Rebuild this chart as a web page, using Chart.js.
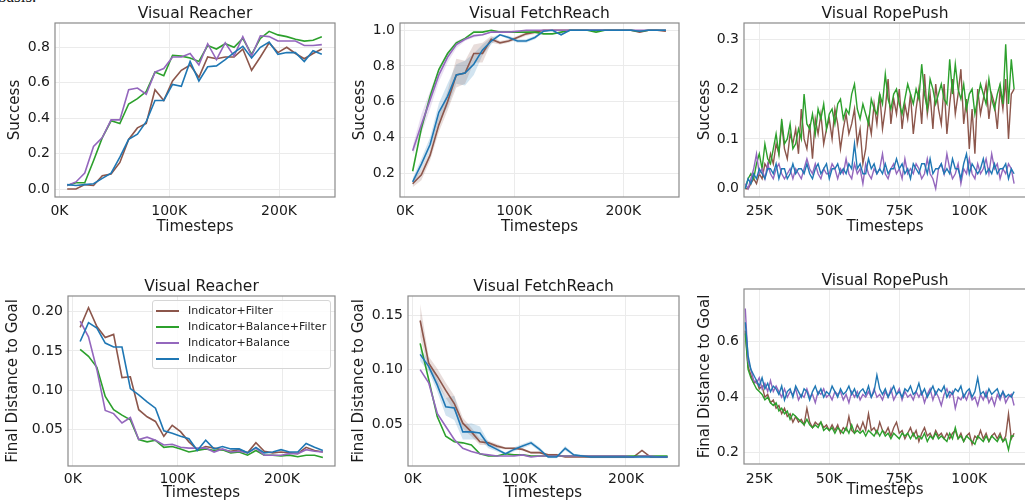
<!DOCTYPE html>
<html><head><meta charset="utf-8">
<script src="https://cdn.jsdelivr.net/npm/chart.js@4.4.0/dist/chart.umd.min.js"></script>
<style>
html,body{margin:0;padding:0;width:1025px;height:502px;overflow:hidden;background:#fff;position:relative;}
canvas{position:absolute;left:0;top:0;}
#frag{position:absolute;left:-2px;top:-13px;font-family:"Liberation Serif";font-size:17px;color:#111;}
#legend{position:absolute;left:152px;top:300px;width:179px;height:69px;border:1px solid #d6d6d6;border-radius:3px;background:rgba(255,255,255,0.85);box-sizing:border-box;font-family:"DejaVu Sans";font-size:11px;color:#262626;z-index:10;}
#legend .it{position:absolute;left:0;height:16px;line-height:16px;white-space:nowrap;}
#legend .sw{position:absolute;left:3px;top:7px;width:23px;height:2px;}
#legend .tx{position:absolute;left:35px;top:0;}
</style>
</head><body>
<div id="frag">basis.</div>
<div id="legend"></div>
<script>
// ---------- data ----------
const seriesNames = ['Indicator+Filter','Indicator+Balance+Filter','Indicator+Balance','Indicator'];
const seriesColors = ['#8c564b','#2ca02c','#9467bd','#1f77b4'];

const steps = [7,15,23,31,39,47,55,63,71,79,87,95,103,111,119,127,135,143,151,159,167,175,183,191,199,207,215,223,231,239];

const reacherSuccFilter = [0.00,0.00,0.025,0.02,0.075,0.085,0.15,0.28,0.345,0.37,0.56,0.50,0.61,0.67,0.70,0.63,0.745,0.735,0.745,0.745,0.79,0.67,0.745,0.825,0.77,0.80,0.765,0.735,0.765,0.79];
const reacherSuccBalFilter = [0.02,0.035,0.035,0.16,0.29,0.385,0.37,0.48,0.51,0.55,0.66,0.64,0.755,0.75,0.74,0.72,0.81,0.79,0.82,0.80,0.85,0.76,0.85,0.89,0.87,0.86,0.845,0.835,0.84,0.86];
const reacherSuccBal = [0.02,0.04,0.09,0.24,0.29,0.39,0.39,0.56,0.57,0.535,0.66,0.68,0.745,0.745,0.765,0.70,0.82,0.73,0.825,0.75,0.86,0.75,0.865,0.86,0.835,0.835,0.835,0.81,0.81,0.815];
const reacherSuccInd = [0.025,0.02,0.025,0.03,0.06,0.09,0.18,0.28,0.31,0.38,0.50,0.50,0.59,0.58,0.72,0.61,0.69,0.695,0.73,0.77,0.805,0.74,0.80,0.83,0.76,0.77,0.77,0.72,0.78,0.76];

const fetchSuccFilter = [0.14,0.19,0.30,0.47,0.60,0.75,0.76,0.87,0.87,0.95,0.93,0.94,0.96,0.98,0.99,1.0,1.0,1.0,1.0,1.0,1.0,1.0,1.0,1.0,1.0,1.0,0.99,1.0,1.0,0.995];
const fetchSuccFilterLo = [0.12,0.16,0.27,0.43,0.55,0.68,0.70,0.82,0.82,0.93,0.92,0.93,0.95,0.97,0.98,0.99,1.0,1.0,1.0,1.0,1.0,1.0,1.0,1.0,1.0,1.0,0.985,1.0,1.0,0.99];
const fetchSuccFilterHi = [0.16,0.22,0.33,0.52,0.66,0.84,0.83,0.92,0.93,0.97,0.94,0.95,0.97,0.99,1.0,1.0,1.0,1.0,1.0,1.0,1.0,1.0,1.0,1.0,1.0,1.0,0.995,1.0,1.0,1.0];
const fetchSuccBalFilter = [0.21,0.45,0.63,0.78,0.87,0.93,0.955,0.99,0.99,1.0,0.99,0.99,0.99,0.99,0.99,0.98,0.98,0.99,1.0,1.0,1.0,0.99,1.0,1.0,1.0,1.0,0.995,1.0,1.0,1.0];
const fetchSuccBal = [0.325,0.47,0.61,0.75,0.85,0.92,0.95,0.97,0.975,0.99,0.99,0.99,0.995,1.0,1.0,1.0,1.0,1.0,1.0,1.0,1.0,1.0,1.0,1.0,1.0,1.0,1.0,1.0,1.0,1.0];
const fetchSuccBalLo = [0.30,0.42,0.56,0.71,0.82,0.90,0.94,0.96,0.97,0.985,0.985,0.985,0.99,1.0,1.0,1.0,1.0,1.0,1.0,1.0,1.0,1.0,1.0,1.0,1.0,1.0,1.0,1.0,1.0,1.0];
const fetchSuccBalHi = [0.35,0.53,0.66,0.79,0.88,0.94,0.96,0.98,0.98,0.995,0.995,0.995,1.0,1.0,1.0,1.0,1.0,1.0,1.0,1.0,1.0,1.0,1.0,1.0,1.0,1.0,1.0,1.0,1.0,1.0];
const fetchSuccInd = [0.15,0.25,0.36,0.54,0.63,0.75,0.76,0.81,0.89,0.94,0.975,0.96,0.94,0.94,0.96,0.995,1.0,0.975,1.0,1.0,1.0,1.0,1.0,1.0,1.0,1.0,0.995,1.0,1.0,1.0];
const fetchSuccIndLo = [0.13,0.22,0.33,0.49,0.57,0.70,0.69,0.75,0.86,0.92,0.97,0.95,0.93,0.93,0.95,0.99,1.0,0.97,1.0,1.0,1.0,1.0,1.0,1.0,1.0,1.0,0.99,1.0,1.0,1.0];
const fetchSuccIndHi = [0.17,0.28,0.40,0.59,0.70,0.81,0.83,0.87,0.92,0.96,0.98,0.97,0.95,0.95,0.97,1.0,1.0,0.98,1.0,1.0,1.0,1.0,1.0,1.0,1.0,1.0,1.0,1.0,1.0,1.0];

const reacherDistFilter = [0.18,0.205,0.181,0.167,0.171,0.116,0.117,0.075,0.066,0.06,0.041,0.055,0.047,0.034,0.024,0.028,0.026,0.024,0.022,0.024,0.02,0.033,0.022,0.02,0.021,0.02,0.019,0.027,0.023,0.021];
const reacherDistBalFilter = [0.152,0.143,0.129,0.092,0.075,0.068,0.062,0.037,0.034,0.036,0.027,0.028,0.025,0.021,0.023,0.025,0.023,0.024,0.02,0.021,0.017,0.023,0.017,0.017,0.016,0.017,0.015,0.017,0.017,0.014];
const reacherDistBal = [0.188,0.168,0.126,0.074,0.07,0.058,0.065,0.037,0.04,0.036,0.03,0.031,0.027,0.026,0.026,0.026,0.021,0.025,0.021,0.022,0.02,0.026,0.017,0.017,0.017,0.019,0.019,0.024,0.022,0.021];
const reacherDistInd = [0.162,0.186,0.179,0.16,0.155,0.155,0.102,0.094,0.085,0.077,0.048,0.045,0.041,0.038,0.023,0.036,0.025,0.028,0.025,0.025,0.02,0.027,0.02,0.021,0.024,0.021,0.021,0.032,0.027,0.023];

const fetchDistFilter = [0.145,0.106,0.094,0.081,0.069,0.051,0.043,0.034,0.033,0.03,0.028,0.028,0.027,0.024,0.024,0.022,0.022,0.02,0.02,0.02,0.02,0.02,0.02,0.02,0.02,0.02,0.026,0.02,0.02,0.02];
const fetchDistFilterLo = [0.130,0.100,0.087,0.074,0.062,0.046,0.039,0.031,0.031,0.028,0.027,0.027,0.026,0.023,0.023,0.021,0.021,0.02,0.02,0.02,0.02,0.02,0.02,0.02,0.02,0.02,0.025,0.02,0.02,0.02];
const fetchDistFilterHi = [0.160,0.112,0.101,0.088,0.076,0.056,0.047,0.037,0.035,0.032,0.029,0.029,0.028,0.025,0.025,0.023,0.023,0.021,0.021,0.021,0.021,0.021,0.021,0.021,0.021,0.021,0.027,0.021,0.021,0.021];
const fetchDistBalFilter = [0.124,0.091,0.057,0.039,0.034,0.033,0.031,0.023,0.021,0.021,0.023,0.022,0.022,0.021,0.021,0.021,0.021,0.021,0.021,0.021,0.021,0.021,0.021,0.021,0.021,0.021,0.021,0.021,0.021,0.021];
const fetchDistBal = [0.10,0.088,0.06,0.048,0.036,0.028,0.025,0.023,0.022,0.021,0.021,0.021,0.022,0.02,0.021,0.021,0.021,0.021,0.021,0.021,0.021,0.021,0.021,0.021,0.021,0.02,0.021,0.021,0.02,0.02];
const fetchDistInd = [0.114,0.103,0.086,0.066,0.065,0.043,0.043,0.042,0.031,0.027,0.023,0.027,0.03,0.033,0.027,0.02,0.02,0.028,0.022,0.021,0.02,0.02,0.02,0.02,0.02,0.02,0.02,0.02,0.02,0.02];
const fetchDistIndLo = [0.108,0.098,0.080,0.058,0.054,0.036,0.036,0.036,0.028,0.025,0.022,0.025,0.028,0.031,0.025,0.019,0.019,0.026,0.021,0.02,0.019,0.019,0.019,0.019,0.019,0.019,0.019,0.019,0.019,0.019];
const fetchDistIndHi = [0.120,0.108,0.092,0.074,0.076,0.050,0.051,0.048,0.034,0.029,0.024,0.029,0.032,0.035,0.029,0.021,0.021,0.030,0.023,0.022,0.021,0.021,0.021,0.021,0.021,0.021,0.021,0.021,0.021,0.021];

const ropeSteps = [20,21,22,23,24,25,26,27,28,29,30,31,32,33,34,35,36,37,38,39,
 40,41,42,43,44,45,46,47,48,49,50,51,52,53,54,55,56,57,58,59,
 60,61,62,63,64,65,66,67,68,69,70,71,72,73,74,75,76,77,78,79,
 80,81,82,83,84,85,86,87,88,89,90,91,92,93,94,95,96,97,98,99,
 100,101,102,103,104,105,106,107,108,109,110,111,112,113,114,115,116];

const ropeSuccFilter = [
 0.00,0.00,0.01,0.02,0.01,0.03,0.02,0.05,0.04,0.07, 0.05,0.09,0.07,0.13,0.08,0.06,0.11,0.09,0.12,0.07,
 0.16,0.10,0.08,0.13,0.06,0.14,0.11,0.15,0.09,0.12, 0.14,0.10,0.16,0.13,0.08,0.12,0.15,0.11,0.13,0.16,
 0.09,0.12,0.05,0.08,0.14,0.11,0.17,0.13,0.19,0.12, 0.16,0.22,0.13,0.18,0.15,0.20,0.12,0.17,0.14,0.19,
 0.11,0.16,0.20,0.13,0.23,0.15,0.19,0.12,0.21,0.16, 0.13,0.21,0.11,0.17,0.22,0.15,0.19,0.24,0.13,0.18,
 0.08,0.16,0.07,0.20,0.15,0.18,0.21,0.14,0.19,0.17, 0.12,0.20,0.16,0.22,0.10,0.19,0.20];
const ropeSuccBalFilter = [
 0.00,0.02,0.03,0.02,0.05,0.07,0.04,0.09,0.06,0.05, 0.08,0.11,0.07,0.14,0.09,0.10,0.13,0.08,0.09,0.12,
 0.10,0.19,0.13,0.12,0.15,0.11,0.16,0.14,0.17,0.12, 0.15,0.16,0.13,0.17,0.18,0.14,0.16,0.15,0.19,0.21,
 0.16,0.14,0.17,0.15,0.13,0.18,0.16,0.15,0.19,0.17, 0.23,0.18,0.16,0.19,0.20,0.17,0.15,0.18,0.21,0.19,
 0.17,0.20,0.18,0.25,0.19,0.16,0.22,0.20,0.17,0.19, 0.21,0.18,0.17,0.26,0.19,0.25,0.20,0.18,0.21,0.16,
 0.19,0.20,0.15,0.18,0.21,0.19,0.17,0.22,0.18,0.16, 0.19,0.21,0.17,0.29,0.17,0.26,0.20];
const ropeSuccBal = [
 0.01,0.00,0.02,0.04,0.07,0.03,0.04,0.02,0.05,0.03, 0.02,0.04,0.05,0.03,0.02,0.03,0.04,0.02,0.04,0.03,
 0.02,0.04,0.06,0.04,0.03,0.05,0.03,0.02,0.04,0.03, 0.03,0.05,0.04,0.02,0.04,0.03,0.06,0.03,0.02,0.05,
 0.03,0.04,0.01,0.05,0.03,0.02,0.04,0.03,0.04,0.07, 0.03,0.02,0.04,0.05,0.03,0.04,0.02,0.06,0.03,0.04,
 0.03,0.05,0.04,0.02,0.03,0.06,0.03,0.02,0.00,0.04, 0.05,0.03,0.07,0.04,0.02,0.03,0.05,0.01,0.04,0.03,
 0.06,0.03,0.02,0.05,0.03,0.04,0.06,0.03,0.07,0.04, 0.05,0.02,0.04,0.03,0.05,0.04,0.01];
const ropeSuccInd = [
 0.00,0.02,0.01,0.03,0.02,0.04,0.03,0.02,0.04,0.04, 0.03,0.05,0.02,0.04,0.04,0.02,0.03,0.05,0.03,0.04,
 0.04,0.03,0.05,0.03,0.02,0.04,0.05,0.03,0.04,0.05, 0.02,0.04,0.04,0.05,0.03,0.04,0.03,0.05,0.04,0.09,
 0.04,0.05,0.03,0.03,0.06,0.04,0.05,0.03,0.04,0.03, 0.05,0.03,0.04,0.04,0.06,0.04,0.05,0.03,0.04,0.02,
 0.05,0.04,0.03,0.05,0.05,0.03,0.06,0.03,0.04,0.04, 0.05,0.03,0.04,0.03,0.06,0.04,0.04,0.02,0.05,0.07,
 0.03,0.05,0.04,0.03,0.04,0.06,0.03,0.04,0.03,0.05, 0.03,0.04,0.04,0.05,0.02,0.04,0.03];

const ropeDistFilter = [
 0.64,0.51,0.48,0.45,0.46,0.43,0.44,0.40,0.41,0.38, 0.39,0.36,0.37,0.34,0.36,0.33,0.34,0.31,0.33,0.31,
 0.32,0.30,0.36,0.31,0.29,0.31,0.30,0.31,0.29,0.30, 0.28,0.30,0.28,0.30,0.27,0.29,0.28,0.33,0.28,0.27,
 0.30,0.28,0.31,0.28,0.34,0.28,0.29,0.27,0.31,0.28, 0.27,0.29,0.26,0.29,0.31,0.27,0.28,0.25,0.27,0.29,
 0.26,0.28,0.24,0.27,0.29,0.26,0.27,0.25,0.28,0.26, 0.27,0.25,0.27,0.25,0.27,0.28,0.25,0.27,0.24,0.26,
 0.27,0.23,0.26,0.25,0.28,0.25,0.27,0.24,0.26,0.27, 0.25,0.27,0.24,0.26,0.34,0.25,0.27];
const ropeDistBalFilter = [
 0.63,0.50,0.47,0.45,0.43,0.42,0.41,0.39,0.40,0.38, 0.37,0.38,0.35,0.36,0.34,0.35,0.32,0.34,0.33,0.32,
 0.31,0.30,0.32,0.30,0.29,0.30,0.29,0.31,0.28,0.29, 0.28,0.29,0.27,0.29,0.28,0.27,0.29,0.27,0.30,0.27,
 0.28,0.27,0.28,0.26,0.28,0.27,0.26,0.28,0.26,0.28, 0.26,0.27,0.25,0.27,0.26,0.25,0.27,0.26,0.27,0.25,
 0.27,0.25,0.26,0.25,0.27,0.24,0.26,0.25,0.27,0.25, 0.26,0.25,0.24,0.27,0.25,0.29,0.25,0.26,0.24,0.26,
 0.25,0.24,0.23,0.26,0.25,0.24,0.26,0.24,0.26,0.25, 0.24,0.26,0.24,0.25,0.21,0.26,0.26];
const ropeDistBal = [
 0.72,0.53,0.50,0.46,0.45,0.47,0.43,0.45,0.42,0.46, 0.42,0.44,0.42,0.40,0.43,0.40,0.42,0.41,0.43,0.39,
 0.41,0.40,0.43,0.40,0.41,0.38,0.42,0.41,0.43,0.40, 0.41,0.39,0.42,0.41,0.42,0.39,0.41,0.38,0.42,0.40,
 0.42,0.39,0.41,0.40,0.42,0.40,0.43,0.40,0.41,0.39, 0.42,0.40,0.43,0.39,0.41,0.43,0.39,0.42,0.40,0.41,
 0.39,0.42,0.40,0.42,0.38,0.41,0.43,0.39,0.42,0.40, 0.37,0.41,0.43,0.40,0.42,0.36,0.40,0.39,0.41,0.39,
 0.42,0.39,0.40,0.37,0.41,0.39,0.42,0.38,0.40,0.37, 0.41,0.39,0.42,0.38,0.40,0.41,0.37];
const ropeDistInd = [
 0.67,0.55,0.50,0.48,0.46,0.44,0.47,0.43,0.45,0.42, 0.44,0.43,0.41,0.44,0.39,0.42,0.43,0.40,0.44,0.42,
 0.40,0.43,0.42,0.39,0.42,0.44,0.41,0.43,0.40,0.42, 0.41,0.44,0.42,0.40,0.43,0.41,0.42,0.44,0.41,0.43,
 0.40,0.42,0.43,0.41,0.44,0.40,0.42,0.48,0.43,0.41, 0.43,0.40,0.42,0.44,0.41,0.42,0.40,0.43,0.42,0.44,
 0.41,0.42,0.45,0.41,0.43,0.40,0.42,0.44,0.41,0.43, 0.42,0.44,0.40,0.42,0.41,0.43,0.42,0.44,0.40,0.42,
 0.43,0.40,0.42,0.47,0.41,0.42,0.40,0.43,0.41,0.42, 0.43,0.40,0.42,0.40,0.41,0.40,0.42];

// ---------- layout ----------
const CW = 1060, CH = 520, XH = 39;
const FONT = '"DejaVu Sans"';
const panels = [
  {title:'Visual Reacher', ty:13.5, ytitle:'Success', l:55, r:335, t:23, b:197, wy:49,
   xmin:-4.1, xmax:251, xstep:100, ymin:-0.045, ymax:0.937, ystep:0.2, dec:1, xpad:6, tpad:0, lw:1.6,
   xs:steps, ys:[reacherSuccFilter,reacherSuccBalFilter,reacherSuccBal,reacherSuccInd], bands:[]},
  {title:'Visual FetchReach', ty:13.5, ytitle:'Success', l:400, r:679, t:23, b:197, wy:49,
   xmin:-4.58, xmax:251, xstep:100, ymin:0.0655, ymax:1.041, ystep:0.2, dec:1, xpad:6, tpad:0, lw:1.6,
   xs:steps, ys:[fetchSuccFilter,fetchSuccBalFilter,fetchSuccBal,fetchSuccInd],
   bands:[[fetchSuccFilterHi,fetchSuccFilterLo,0],[fetchSuccBalHi,fetchSuccBalLo,2],[fetchSuccIndHi,fetchSuccIndLo,3]]},
  {title:'Visual RopePush', ty:13.5, ytitle:'Success', l:744, r:1026, t:23, b:197, wy:48,
   xmin:19.54, xmax:120.25, xstep:25, ymin:-0.0167, ymax:0.3327, ystep:0.1, dec:1, xpad:6, tpad:0, lw:1.4,
   xs:ropeSteps, ys:[ropeSuccFilter,ropeSuccBalFilter,ropeSuccBal,ropeSuccInd], bands:[]},
  {title:'Visual Reacher', ty:287, ytitle:'Final Distance to Goal', l:68, r:335, t:296, b:466, wy:64,
   xmin:-4.6, xmax:250.6, xstep:100, ymin:0.0032, ymax:0.22, ystep:0.05, dec:2, xpad:5, tpad:3, lw:1.6,
   xs:steps, ys:[reacherDistFilter,reacherDistBalFilter,reacherDistBal,reacherDistInd], bands:[]},
  {title:'Visual FetchReach', ty:287, ytitle:'Final Distance to Goal', l:408, r:679, t:296, b:466, wy:58,
   xmin:-4.4, xmax:249.7, xstep:100, ymin:0.0118, ymax:0.1674, ystep:0.05, dec:2, xpad:5, tpad:3, lw:1.6,
   xs:steps, ys:[fetchDistFilter,fetchDistBalFilter,fetchDistBal,fetchDistInd],
   bands:[[fetchDistFilterHi,fetchDistFilterLo,0],[fetchDistIndHi,fetchDistIndLo,3]]},
  {title:'Visual RopePush', ty:281, ytitle:'Final Distance to Goal', l:744, r:1026, t:289, b:464, wy:48,
   xmin:19.54, xmax:120.25, xstep:25, ymin:0.159, ymax:0.79, ystep:0.2, dec:1, xpad:7, tpad:4, lw:1.4,
   xs:ropeSteps, ys:[ropeDistFilter,ropeDistBalFilter,ropeDistBal,ropeDistInd], bands:[]}
];

const bandColors = ['rgba(140,86,75,0.2)','rgba(44,160,44,0.2)','rgba(148,103,189,0.2)','rgba(31,119,180,0.2)'];

function framePlugin(title, ty) {
  return {
    id: 'frame',
    afterDraw(chart) {
      const {ctx, chartArea: a} = chart;
      ctx.save();
      ctx.strokeStyle = '#8a8a8a';
      ctx.lineWidth = 1.2;
      ctx.strokeRect(a.left, a.top, a.right - a.left, a.bottom - a.top);
      ctx.fillStyle = '#1a1a1a';
      ctx.font = '15.5px ' + FONT;
      ctx.textAlign = 'center';
      ctx.textBaseline = 'middle';
      ctx.fillText(title, (a.left + a.right) / 2, ty);
      ctx.restore();
    }
  };
}

panels.forEach(p => {
  const cv = document.createElement('canvas');
  cv.width = CW; cv.height = CH;
  cv.style.width = CW + 'px'; cv.style.height = CH + 'px';
  document.body.appendChild(cv);
  const datasets = p.ys.map((vals, i) => ({
    label: seriesNames[i],
    data: p.xs.map((x, j) => ({x: x, y: vals[j]})),
    borderColor: seriesColors[i],
    backgroundColor: seriesColors[i],
    borderWidth: p.lw,
    pointRadius: 0,
    tension: 0,
    fill: false,
    order: 4 - i
  }));
  p.bands.forEach(([hi, lo, ci]) => {
    datasets.push({
      label: 'band-hi', data: p.xs.map((x, j) => ({x: x, y: hi[j]})),
      borderWidth: 0, pointRadius: 0, tension: 0, fill: '+1',
      backgroundColor: bandColors[ci], borderColor: 'rgba(0,0,0,0)', order: 10
    });
    datasets.push({
      label: 'band-lo', data: p.xs.map((x, j) => ({x: x, y: lo[j]})),
      borderWidth: 0, pointRadius: 0, tension: 0, fill: false,
      backgroundColor: 'rgba(0,0,0,0)', borderColor: 'rgba(0,0,0,0)', order: 10
    });
  });
  new Chart(cv, {
    type: 'line',
    data: {datasets},
    options: {
      responsive: false, animation: false, devicePixelRatio: 1,
      layout: {padding: {left: p.l - p.wy, top: p.t, right: CW - p.r, bottom: CH - p.b - XH}},
      plugins: {legend: {display: false}, tooltip: {enabled: false}, title: {display: false}},
      scales: {
        x: {
          type: 'linear', min: p.xmin, max: p.xmax,
          afterFit: s => { s.height = XH; },
          grid: {color: '#ebebeb', drawTicks: false, lineWidth: 1},
          border: {display: false},
          ticks: {stepSize: p.xstep, includeBounds: false, padding: p.xpad, autoSkip: false, maxRotation: 0,
                  font: {family: FONT, size: 14}, color: '#1a1a1a', callback: v => Math.round(v) + 'K'},
          title: {display: true, text: 'Timesteps', font: {family: FONT, size: 15}, color: '#1a1a1a',
                  padding: {top: 0, bottom: p.tpad}}
        },
        y: {
          type: 'linear', min: p.ymin, max: p.ymax,
          afterFit: s => { s.width = p.wy; },
          grid: {color: '#ebebeb', drawTicks: false, lineWidth: 1},
          border: {display: false},
          ticks: {stepSize: p.ystep, includeBounds: false, padding: 5, autoSkip: false,
                  font: {family: FONT, size: 14}, color: '#1a1a1a', callback: v => Number(v).toFixed(p.dec)},
          title: {display: true, text: p.ytitle, font: {family: FONT, size: 15}, color: '#1a1a1a',
                  padding: {top: 0, bottom: 0}}
        }
      }
    },
    plugins: [framePlugin(p.title, p.ty)]
  });
});

// legend (inside the lower-left panel)
const lg = document.getElementById('legend');
seriesNames.forEach((name, i) => {
  const it = document.createElement('div');
  it.className = 'it';
  it.style.top = (2 + i * 16.1) + 'px';
  it.style.width = '100%';
  it.innerHTML = '<span class="sw" style="background:' + seriesColors[i] + '"></span><span class="tx"></span>';
  it.querySelector('.tx').textContent = name;
  lg.appendChild(it);
});
</script>
</body></html>
